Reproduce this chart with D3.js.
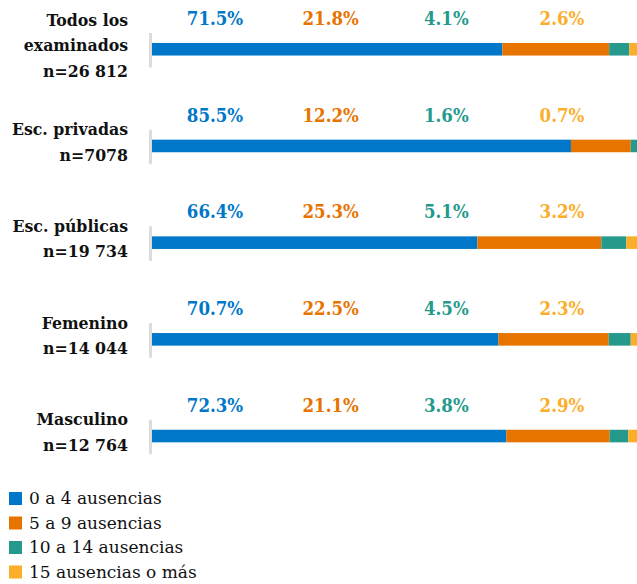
<!DOCTYPE html>
<html>
<head>
<meta charset="utf-8">
<script src="https://cdn.jsdelivr.net/npm/d3@7"></script>
<style>
  body { margin: 0; background: #fff; }
  text { font-family: "DejaVu Serif Condensed", "DejaVu Serif", serif; }
</style>
</head>
<body>
<svg id="chart" width="637" height="584"></svg>
<script>
// data
var groups = [
  ["Todos los", "examinados", "n=26 812"],
  ["Esc. privadas", "n=7078"],
  ["Esc. públicas", "n=19 734"],
  ["Femenino", "n=14 044"],
  ["Masculino", "n=12 764"]
];
var series = ["0 a 4 ausencias", "5 a 9 ausencias", "10 a 14 ausencias", "15 ausencias o más"];
var ausencias0a4   = [71.5, 85.5, 66.4, 70.7, 72.3];
var ausencias5a9   = [21.8, 12.2, 25.3, 22.5, 21.1];
var ausencias10a14 = [4.1, 1.6, 5.1, 4.5, 3.8];
var ausencias15    = [2.6, 0.7, 3.2, 2.3, 2.9];
var colors = ["#0077c8", "#e87400", "#259a8c", "#fbae2a"];

var values = [ausencias0a4, ausencias5a9, ausencias10a14, ausencias15];

var svg = d3.select("#chart");

var x = d3.scaleLinear().domain([0, 100]).range([152, 642]);
var y = d3.scaleBand().domain(d3.range(groups.length)).range([4.3, 481]).paddingInner(0.87).paddingOuter(0.4);
// label columns
var lx = d3.scalePoint().domain(d3.range(series.length)).range([215, 562]);

var rows = svg.selectAll(".row")
  .data(groups)
  .enter()
  .append("g")
  .attr("class", "row")
  .attr("transform", (d, i) => "translate(0," + y(i) + ")");

// small gray baseline
rows.append("rect")
  .attr("x", 149)
  .attr("y", -10)
  .attr("width", 3)
  .attr("height", y.bandwidth() + 22)
  .attr("fill", "#dcdcdc");

rows.each(function(g, i) {
  var row = d3.select(this);
  var cum = 0;
  values.forEach(function(s, k) {
    var v = s[i];
    row.append("rect")
      .attr("x", x(cum))
      .attr("y", 0)
      .attr("width", x(cum + v) - x(cum))
      .attr("height", y.bandwidth())
      .attr("fill", colors[k]);
    cum += v;

    row.append("text")
      .attr("x", lx(k))
      .attr("y", -18)
      .attr("text-anchor", "middle")
      .attr("font-size", 18.5)
      .attr("font-weight", "bold")
      .attr("fill", colors[k])
      .text(v.toFixed(1) + "%");
  });

  // category label
  var n = g.length;
  var lineH = 25.5;
  var top = y.bandwidth() / 2 - 4 - (n - 1) * lineH / 2;
  row.append("text")
    .attr("text-anchor", "end")
    .attr("font-size", 17.5)
    .attr("font-weight", "bold")
    .attr("fill", "#111")
    .selectAll("tspan")
    .data(g)
    .enter()
    .append("tspan")
    .attr("x", 128)
    .attr("y", (d, j) => top + j * lineH + 6)
    .text(d => d);
});

// legend
var legend = svg.selectAll(".legend")
  .data(series)
  .enter()
  .append("g")
  .attr("class", "legend")
  .attr("transform", (d, i) => "translate(9," + (492 + i * 24.5) + ")");

legend.append("rect")
  .attr("width", 13)
  .attr("height", 13)
  .attr("fill", (d, i) => colors[i]);

legend.append("text")
  .attr("x", 20)
  .attr("y", 12)
  .attr("font-size", 17)
  .style("font-family", "'DejaVu Serif', serif")
  .attr("fill", "#111")
  .text(d => d);
</script>
</body>
</html>
